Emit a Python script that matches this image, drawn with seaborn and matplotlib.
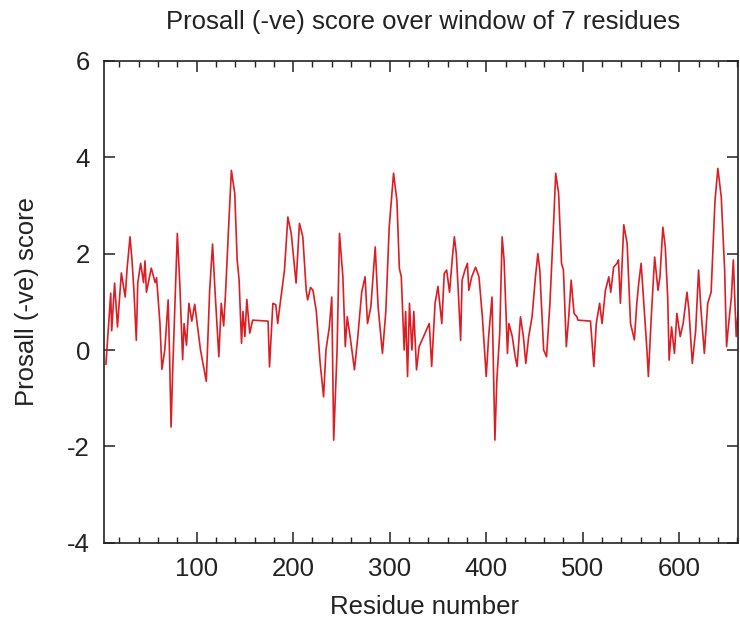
import matplotlib
matplotlib.use("Agg")
import matplotlib.pyplot as plt
import seaborn as sns
import pandas as pd
from matplotlib.ticker import MultipleLocator

# Values (residue number, Prosall score)
residues = [
    6, 9, 11, 12, 15, 18, 22, 26, 28, 31, 33, 35, 37.5, 39, 42, 45, 46.5, 48, 53, 57,
    58.5, 62, 64, 67, 70.5, 72, 73.5, 75, 80, 82.5, 85.5, 87, 89.5, 92, 95, 98, 104, 110,
    113.5, 116.5, 119, 123, 125.5, 128, 130, 133, 136, 139.5, 142, 144, 146.5, 148, 150,
    152, 155, 158, 174, 175.5, 179, 182, 184, 185.5, 191, 194.5, 198, 203, 206.5, 210,
    213.5, 215, 218, 220.5, 224, 228, 231.5, 234, 237.5, 240, 242, 245.5, 248, 251.5,
    254, 256, 259, 263.5, 267, 271, 274.5, 277, 280.5, 285, 288, 292.5, 296, 299.5, 304,
    307.5, 310, 312, 315, 316.5, 318.5, 320.5, 323, 325, 327.8, 330.5, 341, 343.5, 347,
    350, 354, 356.5, 359, 362, 365, 367, 369, 371, 373.5, 375, 378, 380.5, 382, 385, 389,
    392.5, 396, 400, 402.5, 406, 409, 411, 414, 416.5, 418.5, 422, 423.5, 427, 430, 432,
    435.5, 438.5, 441, 444, 447.5, 451, 453.5, 455.5, 459.5, 462.5, 466, 469.5, 472, 475,
    478, 480, 483, 485.5, 488, 491, 494, 495, 508, 511.5, 514, 517.5, 520, 523.5, 527,
    529, 532, 535.5, 537, 539, 542.5, 546, 549.5, 553.5, 556, 558, 560.5, 564, 566.5,
    568, 571, 574.5, 578, 580, 583, 585.5, 588, 589.5, 592, 595, 597.5, 601, 604, 608,
    610, 613.5, 617, 620, 622.5, 626, 629.5, 633, 637, 640, 643.5, 647, 649, 650.5, 654,
    656, 659, 661,
]
scores = [
    -0.3, 0.6, 1.18, 0.4, 1.39, 0.48, 1.6, 1.1, 1.7, 2.35, 1.87, 1.24, 0.2, 1.39, 1.8, 1.4,
    1.85, 1.2, 1.7, 1.4, 1.5, 0.55, -0.4, 0.0, 1.04, -0.15, -1.6, -0.55, 2.42, 1.4, -0.2,
    0.55, 0.1, 0.97, 0.6, 0.95, 0.0, -0.65,
    1.24, 2.2, 1.24, -0.14, 0.97, 0.5, 1.2, 2.5, 3.73, 3.25, 1.87, 1.45, 0.14, 0.8, 0.28,
    1.05, 0.35, 0.62, 0.6, -0.35, 0.97, 0.94, 0.55, 0.8, 1.66, 2.76, 2.42, 1.39, 2.63, 2.35,
    1.24, 1.04, 1.3, 1.24, 0.8, -0.28, -0.97, 0.0, 0.48, 1.1, -1.87, 0.0, 2.42, 1.52,
    0.07, 0.69, 0.28, -0.41, 0.28, 1.2, 1.52, 0.55, 0.9, 2.14, 0.9, -0.07, 0.8, 2.55, 3.67,
    3.1, 1.7, 1.52, 0.0, 0.8, -0.55, 0.97, 0.0, 0.8, -0.41, 0.07, 0.55, -0.34, 0.97,
    1.32, 0.55, 1.59, 1.66, 1.2, 1.93, 2.35, 2.0, 1.24, 0.2, 1.45, 1.66, 1.8, 1.24, 1.52, 1.72,
    1.52, 0.69, -0.55, 0.28, 1.1, -1.87, -0.62, 0.35, 2.35, 1.87, -0.07, 0.55, 0.28, -0.14, -0.34,
    0.69, 0.28, -0.28, 0.28, 0.69, 1.52, 2.0, 1.66, 0.0, -0.14, 0.97, 2.49, 3.67, 3.25,
    1.8, 1.66, 0.07, 0.69, 1.45, 0.76, 0.69, 0.62, 0.6, -0.34, 0.55, 0.97, 0.55, 1.24, 1.52,
    1.2, 1.72, 1.8, 1.87, 0.97, 2.6, 2.21, 0.55, 0.21, 0.97, 1.39, 1.8, 0.76, 0.0,
    -0.55, 0.69, 1.93, 1.24, 1.52, 2.55, 2.14, 1.1, -0.21, 0.48, -0.07, 0.76, 0.28, 0.55, 1.2,
    0.83, -0.28, 0.41, 1.66, 0.83, -0.07, 0.97, 1.2, 3.1, 3.77, 3.18, 1.66, 0.07, 0.41, 1.1,
    1.87, 0.28, 0.8,
]
x_ticks = [100, 200, 300, 400, 500, 600]
y_ticks = [-4, -2, 0, 2, 4, 6]

title = "Prosall (-ve) score over window of 7 residues"
x_label = "Residue number"
y_label = "Prosall (-ve) score"

sns.set_style("ticks")
plt.rcParams["font.family"] = ["Liberation Sans", "DejaVu Sans"]
plt.rcParams["axes.unicode_minus"] = False

df = pd.DataFrame({"residue": residues, "score": scores})

fig = plt.figure(figsize=(7.4, 6.28), dpi=100)
ax = fig.add_axes([0.1405, 0.1358, 0.857, 0.7671])

sns.lineplot(data=df, x="residue", y="score", ax=ax, color="#dc1e24",
             linewidth=1.2, estimator=None, sort=False)

ax.set_xlim(4, 661)
ax.set_ylim(-4, 6)
ax.set_xticks(x_ticks)
ax.set_yticks(y_ticks)
ax.xaxis.set_minor_locator(MultipleLocator(20))

for s in ax.spines.values():
    s.set_visible(True)
    s.set_linewidth(1.2)
    s.set_color("#222222")

ax.tick_params(axis="both", which="major", direction="in", length=8, width=1.1,
               labelsize=18.5, pad=10, top=True, right=True, color="#222222",
               labelcolor="#222222")
ax.tick_params(axis="x", which="minor", direction="in", length=4.5, width=1.0,
               top=True, bottom=True, color="#222222")

ax.set_xlabel("")
ax.set_ylabel("")
fig.text(0.574, 0.033, x_label, ha="center", va="center", fontsize=18.5, color="#222222")
fig.text(0.036, 0.52, y_label, ha="center", va="center", fontsize=18.5,
         rotation=90, color="#222222")
fig.text(0.572, 0.965, title, ha="center", va="center", fontsize=18.5, color="#222222")

fig.savefig("out.png", dpi=100)
